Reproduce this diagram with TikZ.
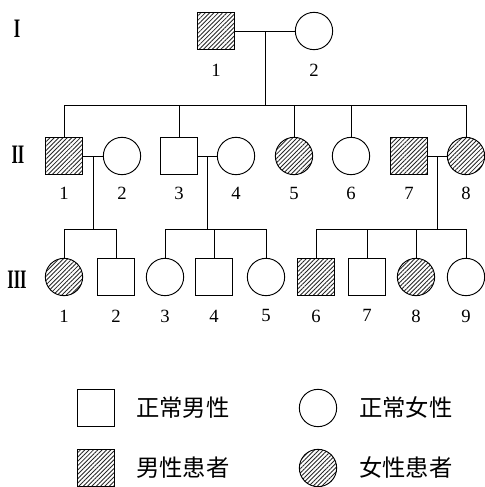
\documentclass[tikz,border=0pt]{standalone}
\usepackage{fontspec}
\setmainfont{Liberation Serif}
\newfontfamily\cjk{Noto Sans CJK SC}
\usetikzlibrary{patterns.meta}

\tikzset{
  person/.style={draw, line width=0.7pt, inner sep=0pt, minimum size=28pt},
  male/.style={person, rectangle},
  female/.style={person, circle},
  sick/.style={fill=gray!40, pattern={Lines[angle=45,distance=2.3pt,line width=0.65pt]}, pattern color=black!85},
  malesick/.style={male, sick},
  femalesick/.style={female, sick},
  num/.style={font=\fontsize{14pt}{14pt}\selectfont, inner sep=0pt},
  gen/.style={font=\bfseries\fontsize{20pt}{20pt}\selectfont, inner sep=0pt, xscale=0.62},
  txt/.style={font=\cjk\fontsize{17.5pt}{17.5pt}\selectfont, inner sep=0pt},
  link/.style={line width=0.7pt},
}

\begin{document}
\begin{tikzpicture}[x=0.75pt,y=-0.75pt]
		\useasboundingbox (0,0) rectangle (485,487);
		% generation labels
		\node[gen] (g1) at (17,29) {I};
		\node[gen] (g2) at (18,155) {II};
		\node[gen] (g3) at (17,280) {III};
		% generation I
		\node[malesick, label={[num, label distance=10.5pt]below:1}] (i1) at (216,31) {};
		\node[female, label={[num, label distance=10.5pt]below:2}] (i2) at (314,31) {};
		% generation II
		\foreach \k/\x/\s in {1/64/malesick,2/122/female,3/179/male,4/236/female,5/294/femalesick,6/351/female,7/409/malesick,8/466/femalesick}
			\node[\s, label={[num, label distance=9pt]below:\k}] (ii\k) at (\x,156) {};
		% generation III
		\foreach \k/\x/\s in {1/64/femalesick,2/116/male,3/165/female,4/214/male,5/266/female,6/316/malesick,7/367/male,8/416/femalesick,9/466/female}
			\node[\s, label={[num, label distance=10pt]below:\k}] (iii\k) at (\x,277) {};
		% couples and sibships
		\coordinate (m1) at (265,31);
		\coordinate (s1) at (265,105);
		\draw[link] (i1) -- (i2);
		\draw[link] (m1) -- (s1);
		\draw[link] (ii1.north) -- (ii1.north |- s1) -- (ii8.north |- s1) -- (ii8.north);
		\foreach \k in {3,5,6}
			\draw[link] (ii\k.north) -- (ii\k.north |- s1);
		\coordinate (m2) at (93,156);
		\coordinate (m3) at (207.5,156);
		\coordinate (m4) at (437.5,156);
		\coordinate (s2) at (0,229);
		\draw[link] (ii1) -- (ii2);
		\draw[link] (ii3) -- (ii4);
		\draw[link] (ii7) -- (ii8);
		\draw[link] (m2) -- (m2 |- s2);
		\draw[link] (m3) -- (m3 |- s2);
		\draw[link] (m4) -- (m4 |- s2);
		\draw[link] (iii1.north) -- (iii1.north |- s2) -- (iii2.north |- s2) -- (iii2.north);
		\draw[link] (iii3.north) -- (iii3.north |- s2) -- (iii5.north |- s2) -- (iii5.north);
		\draw[link] (iii4.north) -- (iii4.north |- s2);
		\draw[link] (iii6.north) -- (iii6.north |- s2) -- (iii9.north |- s2) -- (iii9.north);
		\foreach \k in {7,8}
			\draw[link] (iii\k.north) -- (iii\k.north |- s2);
		% legend
		\node[male] (lm) at (96,408) {};
		\node[txt] (tm) at (183,408) {正常男性};
		\node[female] (lf) at (318,408) {};
		\node[txt] (tf) at (406,408) {正常女性};
		\node[malesick] (lms) at (96,468) {};
		\node[txt] (tms) at (183,468) {男性患者};
		\node[femalesick] (lfs) at (318,468) {};
		\node[txt] (tfs) at (406,468) {女性患者};
	\end{tikzpicture}
\end{document}
